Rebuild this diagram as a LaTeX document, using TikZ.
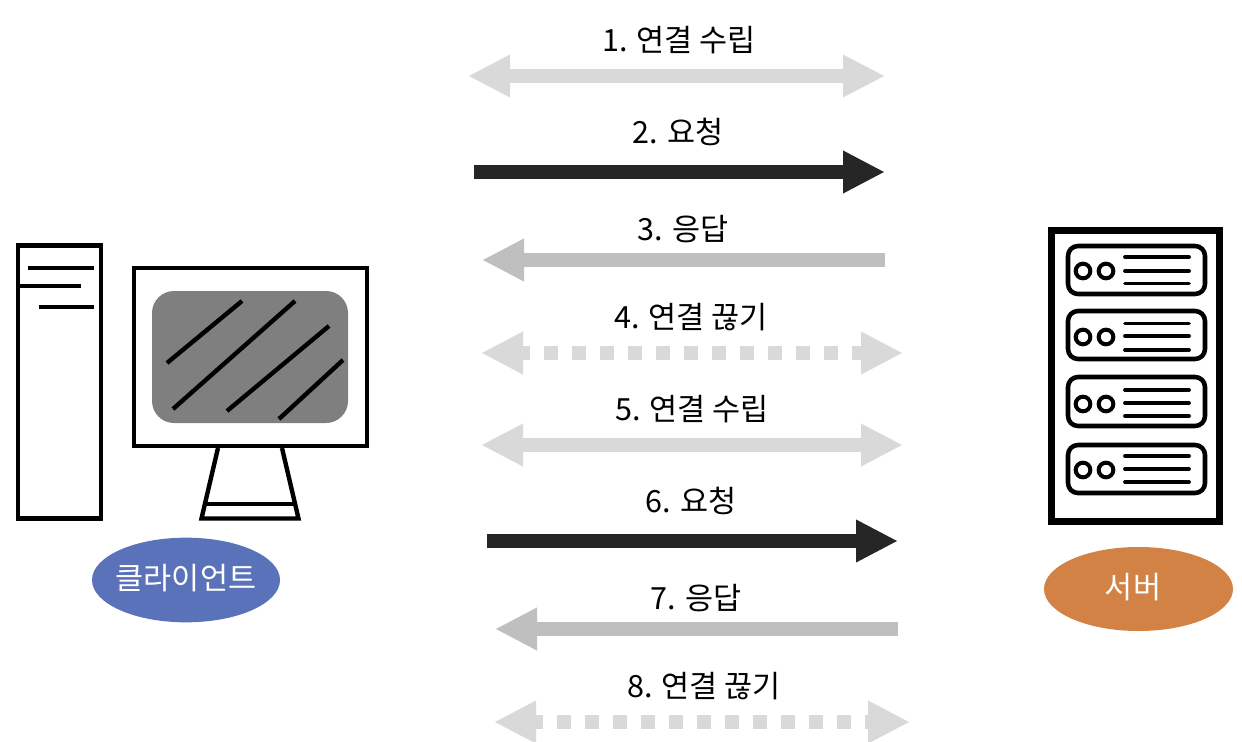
\documentclass[tikz,border=0pt]{standalone}
\usepackage{fontspec}
\setmainfont{Noto Sans CJK KR}
\usetikzlibrary{arrows.meta,shapes.geometric}
\definecolor{lightgr}{HTML}{D9D9D9}
\definecolor{midgr}{HTML}{BFBFBF}
\definecolor{darkgr}{HTML}{262626}
\definecolor{screengr}{HTML}{7F7F7F}
\definecolor{clientblue}{HTML}{5A72BA}
\definecolor{serverorange}{HTML}{D28245}
\tikzset{
  x=0.75pt,y=-0.75pt,
  flow/.style={line width=10.5pt},
  bothtips/.style={{Triangle[length=31.5pt,width=29.8pt]}-{Triangle[length=31.5pt,width=29.8pt]}},
  endtip/.style={-{Triangle[length=31.5pt,width=29.8pt]}},
  dots/.style={dash pattern=on 10.5pt off 10.5pt,dash phase=3pt},
  lbl/.style={inner sep=0pt,font=\fontsize{22.9}{26}\selectfont,text=black},
  ovl/.style={inner sep=0pt,font=\fontsize{22.9}{26}\selectfont,text=white},
  ln/.style={line width=3.3pt,draw=black},
  srvline/.style={line width=2.8pt,line cap=round,draw=black},
  srvbox/.style={line width=3.4pt,draw=black,rounded corners=7.5pt},
  srvled/.style={circle,draw=black,line width=3pt,minimum size=11pt,inner sep=0pt},
}
\begin{document}
\begin{tikzpicture}
\useasboundingbox (0,0) rectangle (1242,742);
% --- arrows
\foreach \n/\xa/\xb/\yy in {1/468/885/76,5/481/903/445}{
  \coordinate (a\n) at (\xa,\yy); \coordinate (b\n) at (\xb,\yy);
  \draw[flow,bothtips,lightgr] (a\n) -- (b\n);
}
\coordinate (a4) at (481,353); \coordinate (b4) at (903,353);
\draw[flow,bothtips,lightgr,dots] (a4) -- (b4);
\coordinate (a8) at (494,722); \coordinate (b8) at (910,722);
\draw[flow,bothtips,lightgr,dots] (a8) -- (b8);
\foreach \n/\xa/\xb/\yy in {2/474/885/172,6/487/898/541}{
  \coordinate (a\n) at (\xa,\yy); \coordinate (b\n) at (\xb,\yy);
  \draw[flow,endtip,darkgr] (a\n) -- (b\n);
}
\foreach \n/\xa/\xb/\yy in {3/482/885/260,7/495/898/629}{
  \coordinate (a\n) at (\xa,\yy); \coordinate (b\n) at (\xb,\yy);
  \draw[flow,endtip,midgr] (b\n) -- (a\n);
}
% --- labels
\node[lbl] (l1) at (679,40) {1. 연결 수립};
\node[lbl] (l2) at (678,132) {2. 요청};
\node[lbl] (l3) at (683,229) {3. 응답};
\node[lbl] (l4) at (691,317) {4. 연결 끊기};
\node[lbl] (l5) at (692,409) {5. 연결 수립};
\node[lbl] (l6) at (691,501) {6. 요청};
\node[lbl] (l7) at (696,598) {7. 응답};
\node[lbl] (l8) at (704,686) {8. 연결 끊기};
% --- client
\draw[ln] (18,245.5) rectangle (101,518.5);
\draw[ln] (28,268) -- (94,268);
\draw[ln] (20,286) -- (81,286);
\draw[ln] (39,307) -- (94,307);
\draw[ln] (134,268) rectangle (367,446);
\fill[screengr,rounded corners=16.5pt] (152,291) rectangle (348,423);
\draw[ln] (167,363) -- (242,301);
\draw[ln] (173,409) -- (295,301);
\draw[ln] (227,411) -- (329,326);
\draw[ln] (279,419) -- (343,360);
\draw[ln] (218,448) -- (201.5,518.5) -- (298.5,518.5) -- (282,448);
\draw[ln] (206,504) -- (295,504);
\node[ellipse,fill=clientblue,minimum width=141pt,minimum height=63.5pt,inner sep=0pt] (client) at (186,580) {};
\node[ovl] (clientlbl) at (186,578) {클라이언트};
% --- server
\draw[line width=5.2pt,draw=black] (1051.5,230.5) rectangle (1219.5,521.5);
\foreach \n/\t/\b/\c/\la/\lb/\lc in {1/246/294/271/257/271/283.5,2/311/359/337/323.5/336/350,3/377/426/404/390/403/416,4/445/493/470/456/469/482}{
  \draw[srvbox] (1068,\t) rectangle (1205,\b);
  \node[srvled] (leda\n) at (1083,\c) {};
  \node[srvled] (ledb\n) at (1106,\c) {};
  \draw[srvline] (1125,\la) -- (1189,\la);
  \draw[srvline] (1125,\lb) -- (1189,\lb);
  \draw[srvline] (1125,\lc) -- (1189,\lc);
}
\node[ellipse,fill=serverorange,minimum width=141.75pt,minimum height=63pt,inner sep=0pt] (server) at (1138.5,589) {};
\node[ovl] (serverlbl) at (1133,587) {서버};
\end{tikzpicture}
\end{document}
